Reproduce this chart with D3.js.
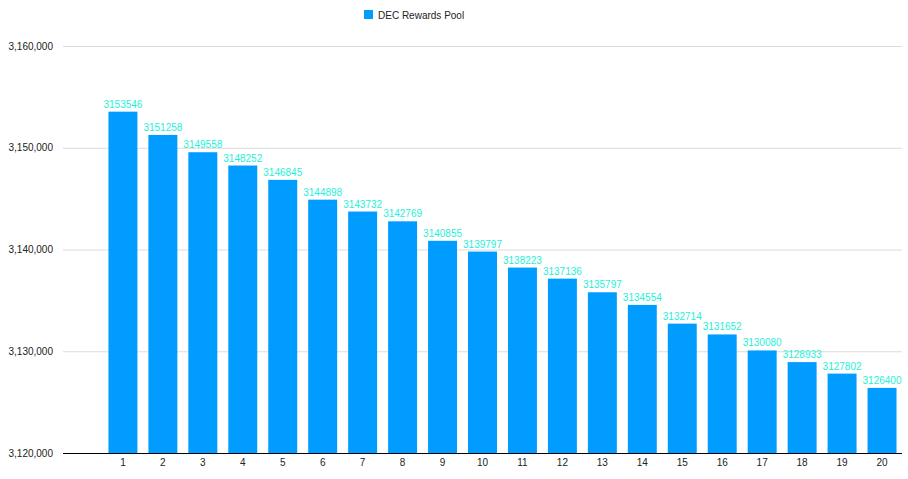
<!DOCTYPE html>
<html>
<head>
<meta charset="utf-8">
<script src="https://cdn.jsdelivr.net/npm/d3@7"></script>
<style>
  body { margin: 0; background: #fff; }
  svg { display: block; font-family: "Liberation Sans", Arial, sans-serif; }
</style>
</head>
<body>
<div id="chart"></div>
<script>
// data
const categories = ["1", "2", "3", "4", "5", "6", "7", "8", "9", "10",
                    "11", "12", "13", "14", "15", "16", "17", "18", "19", "20"]
const poolValues = [3153546, 3151258, 3149558, 3148252, 3146845, 3144898, 3143732, 3142769, 3140855, 3139797,
                    3138223, 3137136, 3135797, 3134554, 3132714, 3131652, 3130080, 3128933, 3127802, 3126400]
const yTicks = [3120000, 3130000, 3140000, 3150000, 3160000]
const seriesName = "DEC Rewards Pool"

const width = 908
const height = 479
const plot = {left: 63, right: 902, top: 46, bottom: 453}
const barColor = "#009cff"
const labelColor = "#1ff0d8"

const svg = d3.select("#chart").append("svg")
              .attr("width", width)
              .attr("height", height)

// scales: first slot of the category axis is left empty, like the source chart
const step = (plot.right - plot.left) / (categories.length + 1)
const xScale = d3.scaleBand()
                 .domain(categories)
                 .range([plot.left + step, plot.right])
                 .paddingInner(0.275)
                 .paddingOuter(0.1375)
const yScale = d3.scaleLinear()
                 .domain([3120000, 3160000])
                 .range([plot.bottom, plot.top])

// gridlines + y labels
const yAxis = d3.axisLeft(yScale)
                .tickValues(yTicks)
                .tickSize(-(plot.right - plot.left))
                .tickPadding(10)
                .tickFormat(d3.format(","))
const yg = svg.append("g")
              .attr("transform", `translate(${plot.left}, 0)`)
              .call(yAxis)
yg.select(".domain").remove()
yg.selectAll(".tick line").attr("stroke", "#dcdcdc")
yg.selectAll(".tick text")
  .attr("fill", "#222")
  .attr("font-size", "10px")
  .attr("font-family", "Liberation Sans, Arial, sans-serif")

// bars
svg.append("g")
   .selectAll("rect")
   .data(poolValues)
   .join("rect")
   .attr("x", (d, i) => xScale(categories[i]))
   .attr("y", d => yScale(d))
   .attr("width", xScale.bandwidth())
   .attr("height", d => plot.bottom - yScale(d))
   .attr("fill", barColor)

// value labels
svg.append("g")
   .selectAll("text")
   .data(poolValues)
   .join("text")
   .attr("x", (d, i) => xScale(categories[i]) + xScale.bandwidth() / 2)
   .attr("y", d => yScale(d) - 4)
   .attr("text-anchor", "middle")
   .attr("font-size", "10px")
   .attr("fill", labelColor)
   .text(d => d)

// x axis
const xAxis = d3.axisBottom(xScale)
                .tickSize(0)
                .tickPadding(6)
const xg = svg.append("g")
              .attr("transform", `translate(0, ${plot.bottom})`)
              .call(xAxis)
xg.select(".domain").remove()
xg.selectAll(".tick text")
  .attr("fill", "#222")
  .attr("font-size", "10px")
  .attr("font-family", "Liberation Sans, Arial, sans-serif")
svg.append("line")
   .attr("x1", plot.left)
   .attr("x2", plot.right)
   .attr("y1", plot.bottom + 0.5)
   .attr("y2", plot.bottom + 0.5)
   .attr("stroke", "#000")
   .attr("stroke-width", 1)

// legend
const legend = svg.append("g").attr("transform", "translate(364, 10)")
legend.append("rect")
      .attr("width", 9)
      .attr("height", 9)
      .attr("fill", barColor)
legend.append("text")
      .attr("x", 14)
      .attr("y", 8.5)
      .attr("font-size", "10px")
      .attr("fill", "#222")
      .text(seriesName)
</script>
</body>
</html>
